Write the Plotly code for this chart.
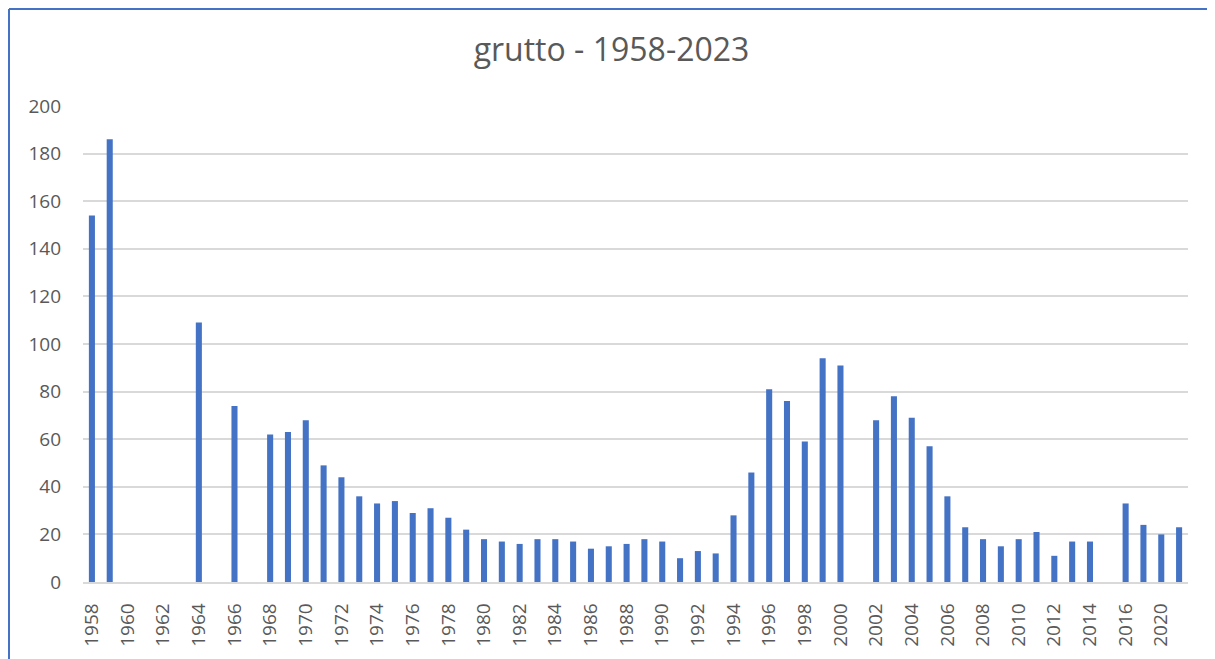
import plotly.graph_objects as go

years = [str(y) for y in range(1958, 2017)] + ["2018", "2020", "2022"]
values = [
    154, 186, None, None, None, None, 109, None, 74, None,   # 1958-1967
    62, 63, 68, 49, 44, 36, 33, 34, 29, 31,                  # 1968-1977
    27, 22, 18, 17, 16, 18, 18, 17, 14, 15,                  # 1978-1987
    16, 18, 17, 10, 13, 12, 28, 46, 81, 76,                  # 1988-1997
    59, 94, 91, None, 68, 78, 69, 57, 36, 23,                # 1998-2007
    18, 15, 18, 21, 11, 17, 17, None, 33,                    # 2008-2016
    24, 20, 23,                                              # 2018, 2020, 2022
]
tick_labels = years[::2]
y_ticks = [0, 20, 40, 60, 80, 100, 120, 140, 160, 180, 200]
title_text = "grutto - 1958-2023"

# page body has an 8px margin, so the figure is offset by 8px
OFF = 8
W, H = 1215 - OFF, 659 - OFF
L, R, T, B = 83 - OFF, 27, 106 - OFF, 77
pw, ph = W - L - R, H - T - B

fig = go.Figure(go.Bar(x=years, y=values, marker=dict(color="#4472C4", line=dict(width=0))))

def px_x(p):
    return (p - OFF - L) / pw

def px_y(p):
    return (H - B - (p - OFF)) / ph

border = dict(color="#4472C4", width=2)
fig.update_layout(
    width=W, height=H,
    margin=dict(l=L, r=R, t=T, b=B, autoexpand=False),
    paper_bgcolor="white", plot_bgcolor="white",
    bargap=0.66,
    showlegend=False,
    font=dict(family="Open Sans", color="#595959"),
    title=dict(text=title_text, x=0.5, xanchor="center", y=1 - (50 - OFF) / H, yanchor="middle",
               font=dict(size=32, color="#595959", family="Open Sans")),
    xaxis=dict(type="category", tickmode="array", tickvals=tick_labels, ticktext=tick_labels,
               tickangle=-90, tickfont=dict(size=19, color="#595959"), showgrid=False,
               showline=True, linecolor="#D9D9D9", linewidth=1.5, ticks="", ticklabelstandoff=12),
    yaxis=dict(range=[0, 200], tickvals=y_ticks, showgrid=True, gridcolor="#D9D9D9", gridwidth=1.5,
               zeroline=False, tickfont=dict(size=19, color="#595959"), ticks="", ticklabelstandoff=21),
    shapes=[
        dict(type="line", xref="paper", yref="paper",
             x0=px_x(OFF + 1), x1=px_x(OFF + 1), y0=px_y(659), y1=px_y(OFF + 1),
             line=border, layer="above"),
        dict(type="line", xref="paper", yref="paper",
             x0=px_x(OFF + 1), x1=px_x(1215), y0=px_y(OFF + 1), y1=px_y(OFF + 1),
             line=border, layer="above"),
    ],
)

fig.write_html("out.html")
